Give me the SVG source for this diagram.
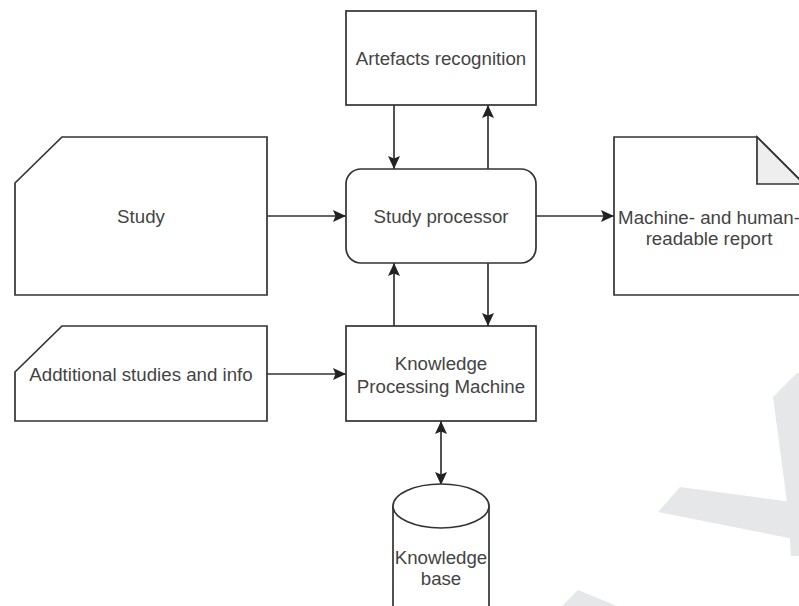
<svg xmlns="http://www.w3.org/2000/svg" width="799" height="606" viewBox="0 0 799 606">
<style>
.shape{fill:#ffffff;stroke:#333333;stroke-width:1.7}
.fold{fill:#eeeeee;stroke:#333333;stroke-width:1.7}
.wm{fill:#e6e7e8;stroke:none}
.edge{fill:none;stroke:#333333;stroke-width:1.7}
text{font-family:"Liberation Sans",Arial,sans-serif;font-size:18.7px;fill:#444444;text-anchor:middle}
</style>
<defs>
<marker id="arr" markerUnits="userSpaceOnUse" markerWidth="13" markerHeight="13" viewBox="0 0 13 13" refX="13" refY="6.5" orient="auto-start-reverse">
<path d="M0,0.5 L13,6.5 L0,12.5 L2.5,6.5 Z" fill="#222222"/>
</marker>
</defs>
<rect width="799" height="606" fill="#ffffff"/>
<g id="watermark">
<polygon class="wm" points="773,397 797,373 799,373 799,556 791,556 788,510"/>
<polygon class="wm" points="680,487 799,503 799,540 658,512"/>
<polygon class="wm" points="578,590 562,606 617,606"/>
</g>
<g id="connectors">
<path class="edge" d="M267,216 H346" marker-end="url(#arr)"/>
<path class="edge" d="M394,105 V169" marker-end="url(#arr)"/>
<path class="edge" d="M488,169 V105" marker-end="url(#arr)"/>
<path class="edge" d="M536,216 H614" marker-end="url(#arr)"/>
<path class="edge" d="M394,326 V263" marker-end="url(#arr)"/>
<path class="edge" d="M488,263 V326" marker-end="url(#arr)"/>
<path class="edge" d="M267,374 H346" marker-end="url(#arr)"/>
<path class="edge" d="M441,421 V485" marker-start="url(#arr)" marker-end="url(#arr)"/>
</g>
<g id="artefacts">
<rect class="shape" x="346" y="11" width="190" height="94"/>
<text x="441" y="64.5">Artefacts recognition</text>
</g>
<g id="study">
<path class="shape" d="M62,137 H267 V295 H15 V183 Z"/>
<text x="141" y="222.5">Study</text>
</g>
<g id="processor">
<rect class="shape" x="346" y="169" width="190" height="94" rx="15" ry="15"/>
<text x="441" y="222.5">Study processor</text>
</g>
<g id="report">
<path class="shape" d="M614,137 H757 L804,184 V295 H614 Z"/>
<path class="fold" d="M757,137 V184 H804 Z"/>
<text x="709" y="223.5">Machine- and human-</text>
<text x="709" y="245">readable report</text>
</g>
<g id="additional">
<path class="shape" d="M62,326 H267 V421 H15 V372 Z"/>
<text x="141" y="380.5">Addtitional studies and info</text>
</g>
<g id="kpm">
<rect class="shape" x="346" y="326" width="190" height="95"/>
<text x="441" y="369.5">Knowledge</text>
<text x="441" y="392.5">Processing Machine</text>
</g>
<g id="kb">
<path class="shape" d="M393,506 A48,22 0 0 1 489,506 V640 A48,22 0 0 1 393,640 Z"/>
<path class="shape" d="M393,506 A48,22 0 0 0 489,506" fill="none"/>
<text x="441" y="563.5">Knowledge</text>
<text x="441" y="585">base</text>
</g>
</svg>
